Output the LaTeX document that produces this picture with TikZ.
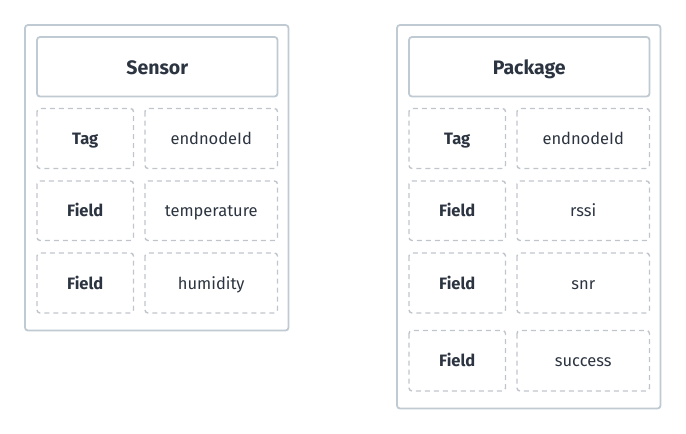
\documentclass[tikz,border=0pt]{standalone}
\usepackage{fontspec}
\setmainfont{Fira Sans}
\definecolor{outerc}{HTML}{C0CAD3}
\definecolor{dashc}{HTML}{C0C5CC}
\definecolor{txtc}{HTML}{2B3440}
\begin{document}
\begin{tikzpicture}[x=1pt,y=-1pt,
  outerbox/.style={draw=outerc,line width=1.8pt,rounded corners=3pt},
  headbox/.style={draw=outerc,line width=1.8pt,rounded corners=3pt},
  cellbox/.style={draw=dashc,line width=1.4pt,dash pattern=on 5pt off 4pt,rounded corners=3pt},
  headtxt/.style={text=txtc,anchor=base,yshift=-7pt,font=\fontsize{19.5}{23}\selectfont\bfseries},
  keytxt/.style={text=txtc,anchor=base,yshift=-6pt,font=\fontsize{16.5}{20}\selectfont\bfseries},
  valtxt/.style={text=txtc,anchor=base,yshift=-6pt,font=\fontsize{16.5}{20}\selectfont}]
\useasboundingbox (0,0) rectangle (686,434);
% Sensor
\draw[outerbox] (25,25) rectangle (288.5,330.5);
\draw[headbox] (37,37) rectangle (277.5,96.5);
\node[headtxt] (sh) at (157.25,67) {Sensor};
\foreach \yt/\yb/\k/\v/\n in {108.5/168.5/Tag/endnodeId/a,181/240.5/Field/temperature/b,253/313/Field/humidity/c}{
  \draw[cellbox] (37,\yt) rectangle (133.5,\yb);
  \draw[cellbox] (145,\yt) rectangle (277.5,\yb);
  \node[keytxt] (sk\n) at (85.25,{(\yt+\yb)/2}) {\k};
  \node[valtxt] (sv\n) at (211.25,{(\yt+\yb)/2}) {\v};
}
% Package
\draw[outerbox] (397,25) rectangle (660.5,408.5);
\draw[headbox] (409,37) rectangle (649.5,96.5);
\node[headtxt] (ph) at (529.25,67) {Package};
\foreach \yt/\yb/\k/\v/\n in {108.5/168.5/Tag/endnodeId/a,181/240.5/Field/rssi/b,253/313/Field/snr/c,330.5/391/Field/success/d}{
  \draw[cellbox] (409,\yt) rectangle (505.5,\yb);
  \draw[cellbox] (517,\yt) rectangle (649.5,\yb);
  \node[keytxt] (pk\n) at (457.25,{(\yt+\yb)/2}) {\k};
  \node[valtxt] (pv\n) at (583.25,{(\yt+\yb)/2}) {\v};
}
\end{tikzpicture}
\end{document}
